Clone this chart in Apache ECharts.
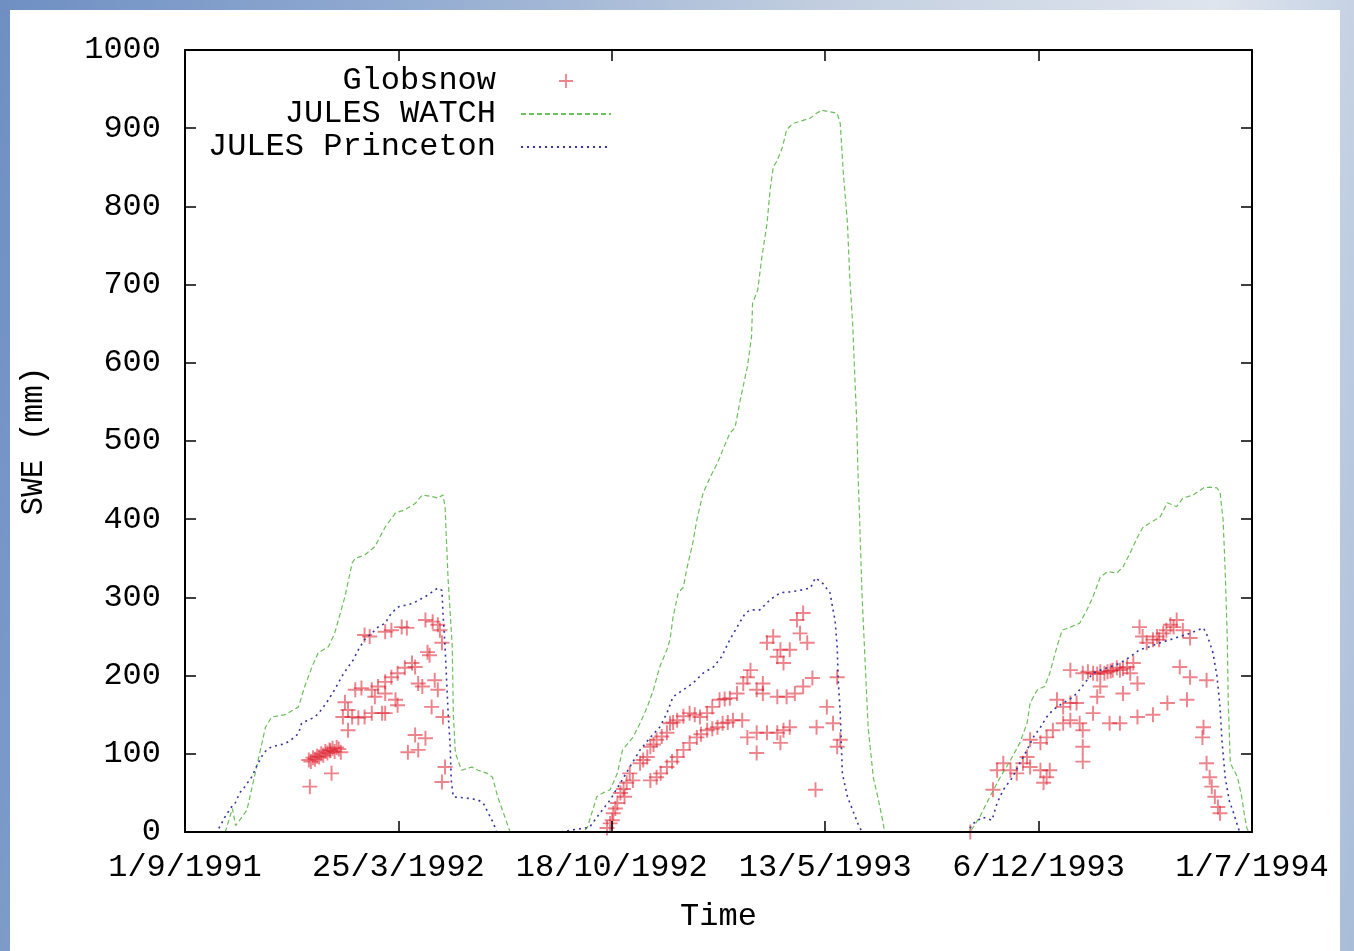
<!DOCTYPE html>
<html>
<head>
<meta charset="utf-8">
<script src="https://cdn.jsdelivr.net/npm/echarts@6/dist/echarts.min.js"></script>
<style>
html,body{margin:0;padding:0;width:1354px;height:951px;overflow:hidden;
background:linear-gradient(100deg,#6f8fc3 0%,#8fa9d0 25%,#c3cfe0 55%,#dfe5ee 80%,#a8bcd8 100%);}
#panel{position:absolute;left:10px;top:10px;width:1330px;height:941px;background:#fff;}
#chart{position:absolute;left:0;top:0;width:1354px;height:951px;}
</style>
</head>
<body>
<div id="panel"></div>
<div id="chart"></div>
<script>
// x values: days since 1 Sep 1991
const xTickLabels = ['1/9/1991', '25/3/1992', '18/10/1992', '13/5/1993', '6/12/1993', '1/7/1994'];
const yTicks = [0, 100, 200, 300, 400, 500, 600, 700, 800, 900, 1000];

const watchData = [
[0,0],[39,0],[46,30],[49,8],[60,28],[68,75],[78,134],[84,147],[97,150],[110,160],[116,186],[123,211],[129,229],[139,237],[145,254],[155,301],[162,344],[165,350],[174,354],[184,365],[194,390],[204,408],[213,412],[223,420],[230,431],[239,429],[245,427],[250,431],[252,416],[255,322],[259,237],[260,152],[262,101],[268,79],[278,83],[284,79],[293,75],[298,70],[303,45],[310,19],[315,0],
[386,0],[390,6],[399,45],[405,50],[412,54],[419,75],[424,105],[434,121],[441,139],[448,160],[454,182],[460,211],[467,233],[470,246],[473,275],[478,306],[483,313],[486,335],[492,369],[496,399],[502,433],[509,454],[516,472],[521,488],[528,510],[533,517],[538,552],[545,595],[549,633],[550,676],[555,693],[559,735],[564,778],[567,821],[570,850],[574,859],[579,876],[583,898],[589,906],[599,910],[606,913],[612,919],[617,923],[625,921],[632,919],[635,906],[638,842],[642,778],[644,714],[647,650],[649,586],[651,523],[652,467],[654,390],[656,306],[659,220],[662,134],[667,70],[672,41],[676,15],[678,0],
[761,0],[770,19],[780,45],[790,70],[800,92],[809,114],[816,139],[819,165],[826,182],[833,186],[838,203],[845,237],[850,258],[858,262],[867,267],[874,284],[880,301],[887,326],[894,333],[903,331],[909,339],[916,357],[923,377],[928,389],[935,395],[945,403],[952,421],[961,416],[967,427],[977,431],[987,440],[993,441],[1000,440],[1003,435],[1006,399],[1008,335],[1010,250],[1011,165],[1013,88],[1020,70],[1024,45],[1027,19],[1029,5],[1031,0]
];

const princetonData = [
[0,0],[31,0],[39,20],[45,32],[48,35],[53,50],[58,58],[65,71],[69,83],[74,96],[79,105],[84,109],[97,113],[103,118],[110,126],[113,139],[119,143],[126,147],[132,156],[139,169],[145,182],[152,199],[158,211],[163,220],[168,233],[174,246],[181,254],[187,262],[194,267],[200,280],[207,288],[220,292],[233,301],[245,312],[249,309],[250,280],[252,237],[255,152],[257,109],[258,66],[260,45],[275,43],[284,41],[289,37],[294,24],[299,11],[302,0],
[363,0],[392,6],[402,24],[412,41],[422,63],[431,83],[441,105],[451,121],[460,134],[467,152],[473,173],[483,182],[492,190],[502,203],[512,211],[520,224],[528,246],[535,262],[543,280],[548,284],[557,284],[567,297],[577,306],[586,307],[596,309],[606,312],[611,325],[618,318],[625,306],[630,270],[632,237],[633,194],[635,152],[637,75],[642,45],[647,28],[652,11],[656,0],
[758,0],[764,11],[773,19],[782,15],[787,37],[793,54],[802,70],[809,88],[816,105],[822,121],[829,134],[835,147],[841,156],[851,165],[861,173],[867,182],[874,194],[880,203],[887,207],[896,211],[906,216],[916,224],[925,233],[935,237],[945,242],[955,246],[964,250],[974,254],[981,258],[987,261],[991,250],[996,230],[1000,200],[1003,160],[1005,115],[1008,70],[1012,40],[1016,25],[1020,8],[1022,0],[1034,0]
];

const globsnowData = [
[120,92],[122,90],[124,95],[126,93],[128,97],[130,96],[132,100],[134,98],[136,103],[138,101],[140,105],[141,104],[143,107],[145,103],[147,108],[149,106],[151,102],[121,58],[142,75],
[155,166],[158,156],[153,147],[162,147],[168,146],[174,147],[181,152],[191,152],[165,182],[171,184],[181,182],[187,186],[194,192],[200,198],[206,203],[213,210],[220,216],[223,211],[184,173],[194,177],[204,169],[206,162],[158,130],[194,152],
[174,252],[179,250],[194,256],[200,258],[210,262],[215,261],[233,271],[240,269],[245,265],[247,258],
[235,230],[237,226],[226,190],[230,186],[242,194],[245,182],[239,160],[249,242],[250,147],[223,124],[233,120],[216,102],[226,105],[252,83],[249,64],
[409,5],[412,11],[414,15],[415,24],[417,30],[419,37],[422,50],[425,55],[426,45],[428,63],[431,75],[434,66],
[441,88],[444,92],[448,96],[451,109],[454,112],[457,118],[462,122],[467,127],[470,139],[473,140],[477,143],[483,148],[489,152],[494,150],[499,147],[506,152],[511,160],[518,169],[523,170],[528,171],[535,177],[541,190],[545,198],[548,207],
[451,66],[457,70],[461,75],[467,83],[472,90],[477,96],[483,105],[489,114],[496,121],[500,125],[506,130],[511,132],[516,134],[521,139],[526,140],[531,143],[540,143],
[554,182],[560,177],[574,173],[583,173],[591,177],[599,186],[608,197],
[545,121],[554,127],[564,127],[574,127],[580,130],[586,134],[554,101],[577,114],
[564,242],[570,250],[577,233],[574,224],[580,216],[586,233],[593,271],[599,280],[596,254],[603,242],[560,190],
[632,198],[622,160],[612,134],[628,139],[635,118],[632,109],[611,54],
[761,0],[783,54],[787,79],[793,88],[800,79],[806,75],[812,88],[819,83],[829,79],[835,70],[838,79],[832,63],[816,96],[819,118],[829,114],[835,121],[841,130],[851,139],[851,160],[858,165],[845,169],[864,165],[867,139],[858,143],[870,130],[870,109],[870,90],[880,152],[884,173],[887,186],
[858,207],[870,203],[875,205],[880,203],[884,202],[887,205],[891,203],[894,205],[897,206],[899,207],[903,210],[906,207],[909,209],[913,211],[919,216],
[896,139],[906,139],[909,177],[916,203],[923,190],[923,147],[938,150],[952,165],[971,169],
[925,262],[928,250],[932,242],[938,246],[942,250],[944,246],[948,254],[951,258],[955,265],[958,262],[961,271],[967,258],[974,248],[964,211],[974,198],[990,194],
[987,134],[986,121],[990,88],[993,70],[995,58],[998,45],[1001,32],[1003,24]
];

const FONT = '"Liberation Mono", "DejaVu Sans Mono", monospace';
const X_MAX = 1034, X_INT = X_MAX / 5;
const PLUS = 'path://M8.7,0H11.3V8.7H20V11.3H11.3V20H8.7V11.3H0V8.7H8.7Z';

const chart = echarts.init(document.getElementById('chart'), null, {renderer: 'canvas'});

function axisLine() { return {show: true, onZero: false, lineStyle: {color: '#000', width: 2}}; }
function tick() { return {show: true, inside: true, length: 11, lineStyle: {color: '#000', width: 1.5}}; }

function legendCfg(name, top, right, hideSymbol) {
  const cfg = {
    data: [name], top: top, right: right,
    orient: 'vertical', align: 'right', padding: 0,
    itemWidth: 90, itemHeight: 14, selectedMode: false,
    textStyle: {fontFamily: FONT, fontSize: 32, lineHeight: 32, color: '#000', padding: [0, 20, 0, 0]}
  };
  if (hideSymbol) cfg.itemStyle = {opacity: 0};
  return cfg;
}

chart.setOption({
  animation: false,
  backgroundColor: 'transparent',
  grid: {left: 185, right: 102, top: 50, bottom: 119, containLabel: false},
  legend: [
    legendCfg('Globsnow', 65, 781, false),
    legendCfg('JULES WATCH', 98, 742, true),
    legendCfg('JULES Princeton', 131, 742, true)
  ],
  xAxis: [
    {
      type: 'value', min: 0, max: X_MAX, interval: X_INT, z: 5,
      name: 'Time', nameLocation: 'middle', nameGap: 69,
      nameTextStyle: {fontFamily: FONT, fontSize: 32, color: '#000'},
      axisLine: axisLine(), axisTick: tick(), splitLine: {show: false},
      axisLabel: {
        fontFamily: FONT, fontSize: 32, color: '#000', margin: 20,
        formatter: v => xTickLabels[Math.round(v / X_INT)] || ''
      }
    },
    {
      type: 'value', position: 'top', min: 0, max: X_MAX, interval: X_INT, z: 5,
      axisLine: axisLine(), axisTick: tick(), axisLabel: {show: false}, splitLine: {show: false}
    }
  ],
  yAxis: [
    {
      type: 'value', min: yTicks[0], max: yTicks[yTicks.length - 1], interval: yTicks[1] - yTicks[0], z: 5,
      name: 'SWE (mm)', nameLocation: 'middle', nameRotate: 90, nameGap: 136,
      nameTextStyle: {fontFamily: FONT, fontSize: 31, color: '#000'},
      axisLine: axisLine(), axisTick: tick(), splitLine: {show: false},
      axisLabel: {fontFamily: FONT, fontSize: 32, color: '#000', margin: 24, formatter: v => String(v)}
    },
    {
      type: 'value', position: 'right', min: yTicks[0], max: yTicks[yTicks.length - 1], interval: yTicks[1] - yTicks[0], z: 5,
      axisLine: axisLine(), axisTick: tick(), axisLabel: {show: false}, splitLine: {show: false}
    }
  ],
  series: [
    {
      name: 'Globsnow', type: 'scatter', data: globsnowData,
      symbol: PLUS, symbolSize: 15, symbolKeepAspect: true,
      itemStyle: {color: '#dd1f2e', opacity: 0.55}, z: 2
    },
    {
      name: 'JULES WATCH', type: 'line', data: watchData,
      symbol: 'none', showSymbol: false,
      itemStyle: {color: '#6cbf5a'},
      lineStyle: {color: '#6cbf5a', width: 1.2, type: [5, 3]}, z: 3
    },
    {
      name: 'JULES Princeton', type: 'line', data: princetonData,
      symbol: 'none', showSymbol: false,
      itemStyle: {color: '#34349c'},
      lineStyle: {color: '#34349c', width: 1.6, type: [2, 4]}, z: 4
    }
  ]
});
</script>
</body>
</html>
